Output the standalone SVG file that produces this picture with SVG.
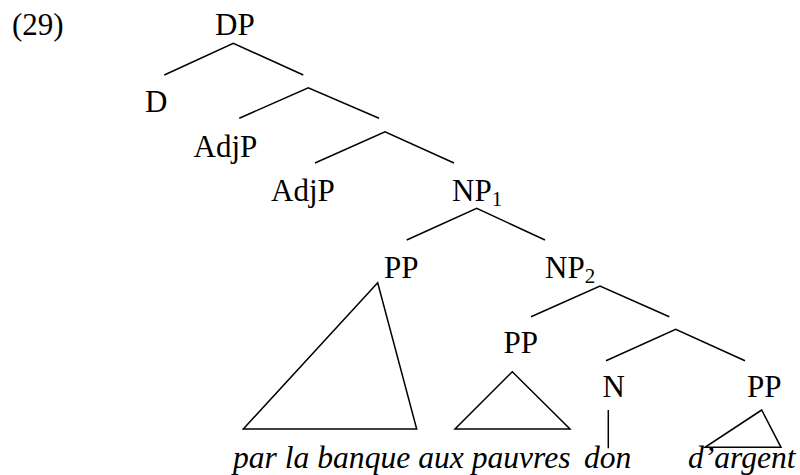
<svg xmlns="http://www.w3.org/2000/svg" width="800" height="475" viewBox="0 0 800 475">
<style>
text{font-family:"Liberation Serif","Times New Roman",serif;font-size:31px;fill:#000}
.it{font-style:italic;font-size:31.6px}
.sub{font-size:21px}
.edge{stroke:#000;stroke-width:1.5;fill:none}
</style>
<rect width="800" height="475" fill="#fff"/>
<text id="ex-num" x="12" y="35">(29)</text>
<g id="connectors">
<path class="edge" d="M164.3,75 L233.3,43.3 L303.3,75"/>
<path class="edge" d="M239.3,118.3 L308.3,87.7 L379,118.3"/>
<path class="edge" d="M315,163 L385,131.7 L454,163"/>
<path class="edge" d="M406.7,240 L476.7,208.3 L545,240"/>
<path class="edge" d="M531,316.7 L600,286 L669.3,316.7"/>
<path class="edge" d="M606,360.7 L675.7,329.3 L745,360.7"/>
<path class="edge" d="M377.7,282.7 L243.3,429 L416.7,429 Z"/>
<path class="edge" d="M512.3,371.7 L455,429 L570,429 Z"/>
<path class="edge" d="M608.3,410 L608.3,448.3"/>
<path class="edge" d="M761.7,410 L705,447.3 L781,447.3 Z"/>
</g>
<g id="DP"><text x="215" y="35">DP</text></g>
<g id="D"><text x="145" y="112">D</text></g>
<g id="AdjP1"><text x="193.5" y="157">AdjP</text></g>
<g id="AdjP2"><text x="271" y="201">AdjP</text></g>
<g id="NP1"><text x="452" y="201">NP<tspan class="sub" dy="5">1</tspan></text></g>
<g id="PP1"><text x="384" y="278">PP</text></g>
<g id="NP2"><text x="545" y="278">NP<tspan class="sub" dy="5">2</tspan></text></g>
<g id="PP2"><text x="503.5" y="353">PP</text></g>
<g id="N"><text x="602.5" y="397">N</text></g>
<g id="PP3"><text x="747" y="397">PP</text></g>
<g id="words">
<text class="it" x="233" y="468">par la banque aux pauvres</text>
<text class="it" x="584" y="468">don</text>
<text class="it" x="688" y="468">d’argent</text>
</g>
</svg>
